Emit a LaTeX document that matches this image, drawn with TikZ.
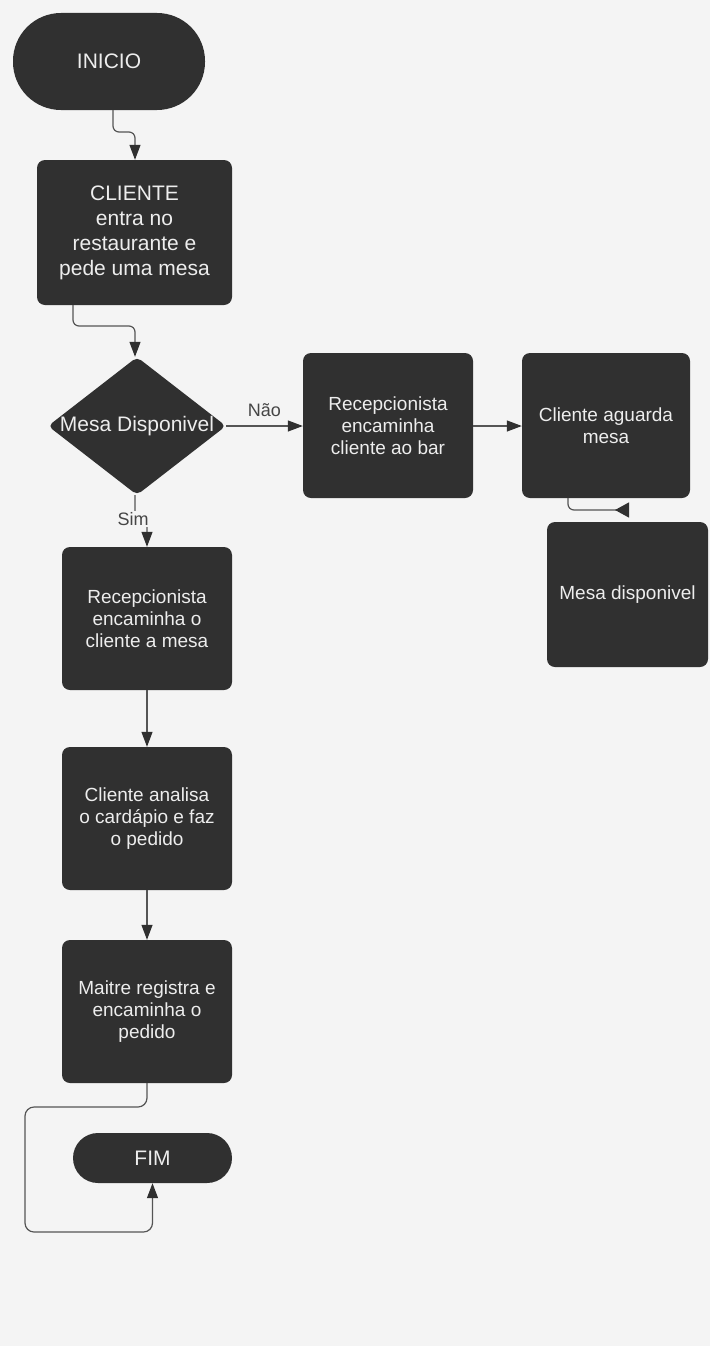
\documentclass[tikz,border=0pt]{standalone}
\usepackage{fontspec}
\setmainfont{Liberation Sans}
\usetikzlibrary{shapes.geometric,arrows.meta}
\definecolor{bgc}{HTML}{F4F4F4}
\definecolor{boxc}{HTML}{303030}
\definecolor{txtc}{HTML}{EDEDED}
\definecolor{linec}{HTML}{555555}
\tikzset{
  procbox/.style={rectangle, rounded corners=8pt, fill=boxc, draw=none, text=txtc,
    align=center, inner sep=0pt, font=\fontsize{19}{22}\selectfont},
  termbox/.style={rectangle, fill=boxc, draw=none, text=txtc, align=center,
    inner sep=0pt, font=\fontsize{21}{25}\selectfont},
  conn/.style={draw=linec, line width=1.2pt, rounded corners=6pt,
    -{Triangle[length=15pt,width=11pt,color=boxc]}},
  edgelab/.style={text=boxc!90, font=\fontsize{18}{20}\selectfont, inner sep=1pt},
}
\begin{document}
\begin{tikzpicture}[x=1pt,y=-1pt]
\fill[bgc] (0,0) rectangle (710,1346);
\useasboundingbox (0,0) rectangle (710,1346);

\node[termbox, rounded corners=48pt, minimum width=192pt, minimum height=97pt] (ini) at (109,61.5) {INICIO};
\node[procbox, font=\fontsize{21}{25}\selectfont, minimum width=195pt, minimum height=145pt] (cli) at (134.5,232.5) {CLIENTE\\entra no\\restaurante e\\pede uma mesa};
\node[diamond, fill=boxc, rounded corners=5pt, inner sep=0pt, minimum width=178pt, minimum height=138pt] (dia) at (137,426) {};
\node[text=txtc, font=\fontsize{21}{25}\selectfont, inner sep=0pt] (dialab) at (dia.center) {Mesa Disponivel};
\node[procbox, minimum width=170pt, minimum height=145pt] (bar) at (388,425.5) {Recepcionista\\encaminha\\cliente ao bar};
\node[procbox, minimum width=168pt, minimum height=145pt] (agu) at (606,425.5) {Cliente aguarda\\mesa};
\node[procbox, minimum width=161pt, minimum height=145pt] (mdisp) at (627.5,594.5) {Mesa disponivel};
\node[procbox, minimum width=170pt, minimum height=143pt] (rmesa) at (147,618.5) {Recepcionista\\encaminha o\\cliente a mesa};
\node[procbox, minimum width=170pt, minimum height=143pt] (anal) at (147,818.5) {Cliente analisa\\o cardápio e faz\\o pedido};
\node[procbox, minimum width=170pt, minimum height=143pt] (mait) at (147,1011.5) {Maitre registra e\\encaminha o\\pedido};
\node[termbox, rounded corners=25pt, minimum width=159pt, minimum height=50pt] (fim) at (152.5,1158) {FIM};
\coordinate (aguend) at (629,510);

% connectors
\draw[conn] (ini.south -| 113,0) -- (113,132) -- (135,132) -- (cli.north -| 135,0);
\draw[conn] (cli.south -| 73,0) -- (73,326) -- (135,326) -- (dia.north -| 135,0);
\draw[conn] (dia.east) -- node[edgelab, above=8pt] (nao) {Não} (bar.west |- dia.east);
\draw[conn] (bar.east |- dia.east) -- (agu.west |- dia.east);
\draw[conn, -{Triangle[length=14pt,width=15pt,reversed,color=boxc]}] (agu.south -| 568,0) -- (568,510) -- (aguend);
\draw[conn] (dia.south -| 135,0) -- (135,520) -- (147,520) -- (rmesa.north);
\node[edgelab, fill=bgc] (sim) at (133,519) {Sim};
\draw[conn] (rmesa.south) -- (anal.north);
\draw[conn] (anal.south) -- (mait.north);
\draw[conn, rounded corners=9pt] (mait.south) -- (147,1107) -- (25,1107) -- (25,1232) -- (152.5,1232) -- (fim.south);
\end{tikzpicture}
\end{document}
